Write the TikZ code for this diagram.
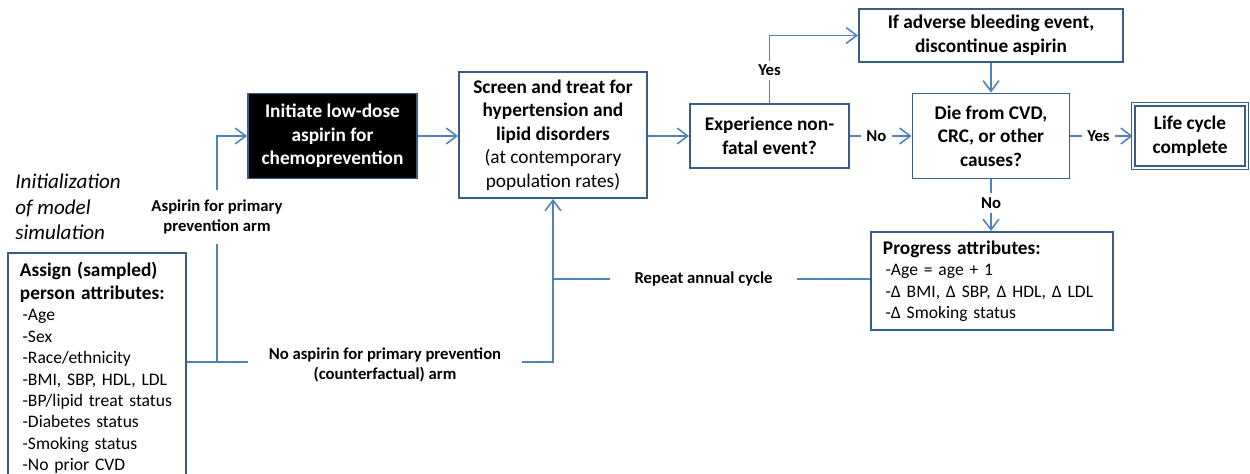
\documentclass[tikz,border=0pt]{standalone}
\usepackage{fontspec}
\setmainfont{Carlito}
\usetikzlibrary{arrows.meta}
\definecolor{boxblue}{RGB}{56,93,138}
\definecolor{lineblue}{RGB}{79,129,189}
\newcommand{\nohyph}{\hyphenpenalty=10000\relax\exhyphenpenalty=10000\relax}
\tikzset{
  box/.style={draw=boxblue, line width=1.1pt, align=center, inner sep=2pt,
    font=\fontsize{11}{13.4}\selectfont\bfseries},
  listbox/.style={draw=boxblue, line width=1.1pt, align=left, inner xsep=0.24cm, inner ysep=5pt,
    font=\fontsize{10}{12.2}\selectfont},
  conn/.style={draw=lineblue, line width=0.9pt},
  arr/.style={conn, -{Straight Barb[length=6pt,width=9pt]}},
  lab/.style={font=\fontsize{9.5}{11.6}\selectfont\bfseries, align=center},
  clab/.style={lab, fill=white, inner xsep=3pt, inner ysep=2.5pt},
}
\begin{document}
\begin{tikzpicture}[x=0.02cm,y=-0.02cm]
\useasboundingbox (0,0) rectangle (1250,473);

% left side
\node[anchor=west, align=left, inner sep=0pt, font=\fontsize{12}{14.4}\selectfont\itshape]
  (initlab) at (15,207) {Initialization\\of model\\simulation};
\node[listbox, anchor=north west, text width=3.08cm] (assign) at (7,252)
  {\nohyph{\fontsize{11}{13.4}\selectfont\bfseries Assign (sampled)\\[1pt]person attributes:}\\
   \hspace*{0.15em}-Age\\
   \hspace*{0.15em}-Sex\\
   \hspace*{0.15em}-Race/ethnicity\\
   \hspace*{0.15em}-BMI, SBP, HDL, LDL\\
   \hspace*{0.15em}-BP/lipid treat status\\
   \hspace*{0.15em}-Diabetes status\\
   \hspace*{0.15em}-Smoking status\\
   \hspace*{0.15em}-No prior CVD\\[6pt]};

% main boxes
\node[box, fill=black, text=white, minimum width=3.38cm, minimum height=1.7cm]
  (init) at (332.5,136) {Initiate low-dose\\aspirin for\\chemoprevention};
\node[box, minimum width=3.76cm, minimum height=2.52cm] (screen) at (553,135)
  {Screen and treat for\\hypertension and\\lipid disorders\\\mdseries (at contemporary\\\mdseries population rates)};
\node[box, minimum width=3.18cm, minimum height=1.28cm] (exp) at (769.5,136)
  {Experience non-\\fatal event?};
\node[box, minimum width=5.28cm, minimum height=1.06cm] (ifb) at (991,35.5)
  {If adverse bleeding event,\\discontinue aspirin};
\node[box, minimum width=3.14cm, minimum height=1.7cm] (die) at (991,136)
  {Die from CVD,\\CRC, or other\\causes?};
\node[box, line width=0.7pt, double=white, double distance=1.3pt,
  minimum width=2.27cm, minimum height=1.27cm] (life) at (1190,136)
  {Life cycle\\complete};
\node[listbox, anchor=north west, text width=4.36cm, minimum height=1.9cm] (prog) at (870,231)
  {\nohyph{\fontsize{11}{13.4}\selectfont\bfseries Progress attributes:}\\
   \hspace*{0.15em}-Age = age + 1\\
   \hspace*{0.15em}-Δ BMI, Δ SBP, Δ HDL, Δ LDL\\
   \hspace*{0.15em}-Δ Smoking status};

% branch labels
\coordinate (split) at (217,362);
\node[lab, inner xsep=2pt, inner ysep=5.5pt] (asplab) at (217,217)
  {Aspirin for primary\\prevention arm};
\node[lab, minimum width=5.48cm, inner xsep=0pt] (nolab) at (385,365)
  {No aspirin for primary prevention\\(counterfactual) arm};
\node[lab, minimum width=3.74cm, inner xsep=0pt] (replab) at (703.5,279)
  {Repeat annual cycle};

% connectors
\draw[conn] (assign.east |- split) -- (split) -- (asplab.south);
\draw[arr] (asplab.north) |- (init.west);
\draw[conn] (split) -- (split -| nolab.west);
\draw[arr] (split -| nolab.east) -| (screen.south);
\draw[arr] (init.east) -- (screen.west |- init.east);
\draw[arr] (screen.east |- exp.west) -- (exp.west);
\draw[arr] (exp.north) |- node[clab, pos=0.24] {Yes} (ifb.west);
\draw[arr] (ifb.south) -- (die.north);
\draw[arr] (exp.east) -- node[clab, pos=0.43] {No} (die.west);
\draw[arr] (die.east) -- node[clab, pos=0.45] {Yes} (life.west);
\draw[arr] (die.south) -- node[clab, pos=0.45] {No} (prog.north -| die.south);
\draw[conn] (prog.west |- replab.east) -- (replab.east);
\draw[conn] (replab.west) -- (replab.west -| screen.south);
\end{tikzpicture}
\end{document}
